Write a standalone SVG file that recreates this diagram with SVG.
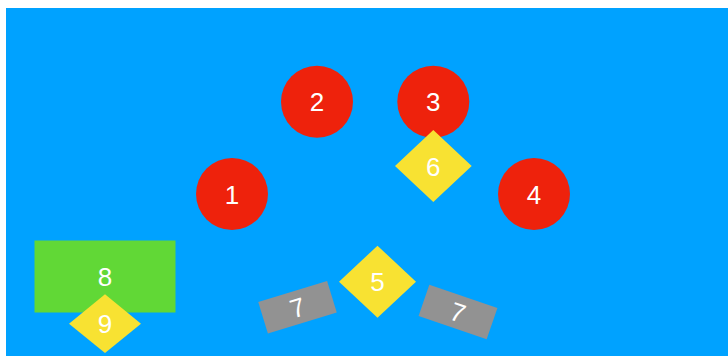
<svg xmlns="http://www.w3.org/2000/svg" width="728" height="356" viewBox="0 0 728 356">
<style>
.bg{fill:#00A2FF}
.red{fill:#EE220C}
.yel{fill:#F8E232}
.grn{fill:#61D836}
.gry{fill:#929292}
.lbl{font-family:"Liberation Sans",Arial,Helvetica,sans-serif;font-size:26px;fill:#FFFFFF;text-anchor:middle}
</style>
<rect x="0" y="0" width="728" height="356" fill="#FFFFFF"/>
<rect class="bg" x="6" y="8" width="722" height="348"/>
<g id="connectors"></g>
<g id="n2"><circle class="red" cx="317" cy="101.7" r="36"/><text class="lbl" x="317" y="111.2">2</text></g>
<g id="n3"><circle class="red" cx="433.3" cy="101.7" r="36"/><text class="lbl" x="433.3" y="111.2">3</text></g>
<g id="n1"><circle class="red" cx="232" cy="194" r="36"/><text class="lbl" x="232" y="203.5">1</text></g>
<g id="n4"><circle class="red" cx="534" cy="194" r="36"/><text class="lbl" x="534" y="203.5">4</text></g>
<g id="n6"><polygon class="yel" points="433.3,130 471.7,166 433.3,202 395,166"/><text class="lbl" x="433.3" y="175.5">6</text></g>
<g id="n5"><polygon class="yel" points="377.5,245.7 416,281.7 377.5,317.7 339,281.7"/><text class="lbl" x="377.5" y="291.2">5</text></g>
<g id="n8"><rect class="grn" x="34.5" y="240.5" width="141" height="72"/><text class="lbl" x="105" y="286.2">8</text></g>
<g id="n9"><polygon class="yel" points="105,294.3 141,323.7 105,353 69,323.7"/><text class="lbl" x="105" y="333">9</text></g>
<g id="n7a" transform="translate(297.5,307.3) rotate(-17)"><rect class="gry" x="-36" y="-16.5" width="72" height="33"/><text class="lbl" x="0" y="9.5">7</text></g>
<g id="n7b" transform="translate(458,312) rotate(19)"><rect class="gry" x="-36" y="-16.5" width="72" height="33"/><text class="lbl" x="0" y="9.5">7</text></g>
</svg>
